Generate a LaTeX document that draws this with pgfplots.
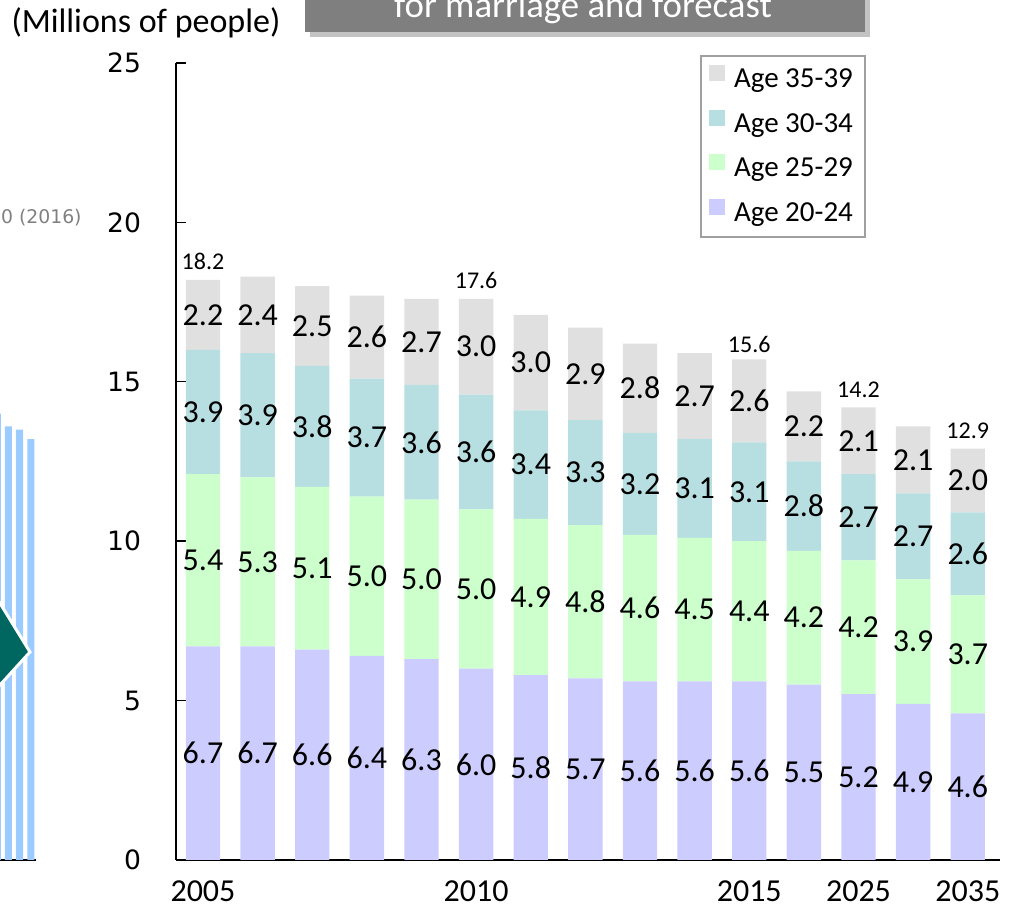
\documentclass[border=0pt]{standalone}
\usepackage{pgfplots}
\pgfplotsset{compat=1.18}
\usepackage{pgfplotstable}
\usepackage{fontspec}
\setmainfont{Carlito}
\newfontfamily\dejavu{DejaVu Sans}

\definecolor{c20}{RGB}{204,204,255}
\definecolor{c25}{RGB}{204,255,204}
\definecolor{c30}{RGB}{183,223,226}
\definecolor{c35}{RGB}{224,224,224}
\definecolor{oldbar}{RGB}{156,204,255}
\definecolor{arrowteal}{RGB}{0,102,96}
\definecolor{titlegray}{RGB}{127,127,127}
\definecolor{shadowgray}{RGB}{195,195,195}
\definecolor{legendgray}{RGB}{160,160,160}

\pgfplotsset{
  /pgf/number format/assume math mode=true,
  sqlegend/.style={legend image code/.code={\fill[##1] (0pt,-0.5pt) rectangle (8pt,7.5pt);}},
}

% population by age group, millions (2005-2015 yearly, then 2020, 2025, 2030, 2035)
\pgfplotstableread{
x  a20 a25 a30 a35
0  6.7 5.4 3.9 2.2
1  6.7 5.3 3.9 2.4
2  6.6 5.1 3.8 2.5
3  6.4 5.0 3.7 2.6
4  6.3 5.0 3.6 2.7
5  6.0 5.0 3.6 3.0
6  5.8 4.9 3.4 3.0
7  5.7 4.8 3.3 2.9
8  5.6 4.6 3.2 2.8
9  5.6 4.5 3.1 2.7
10 5.6 4.4 3.1 2.6
11 5.5 4.2 2.8 2.2
12 5.2 4.2 2.7 2.1
13 4.9 3.9 2.7 2.1
14 4.6 3.7 2.6 2.0
}\agedata

\begin{document}
\begin{tikzpicture}
\useasboundingbox (0,0) rectangle (509.5pt,454pt);
\clip (0,0) rectangle (509.5pt,454pt);

% cut-off pieces of the neighbouring slide content
\fill[shadowgray] (155pt,435.5pt) rectangle (435pt,470pt);
\fill[titlegray] (152.5pt,438.2pt) rectangle (432.5pt,470pt);
\node[white, font=\fontsize{18.4}{22}\selectfont, anchor=base] at (291.5pt,445pt) {for marriage and forecast};
\node[font=\fontsize{17}{20}\selectfont, anchor=base] at (73pt,437.5pt) {(Millions of people)};
\node[gray, font=\dejavu\fontsize{9.4}{11}\selectfont, anchor=east, inner sep=0pt] at (41pt,345pt) {0 (2016)};

\begin{axis}[
  at={(0pt,24pt)}, anchor=south west,
  scale only axis, width=18pt, height=398.5pt,
  xmin=0, xmax=36, ymin=0, ymax=25,
  axis x line*=bottom, axis y line=none,
  xtick=\empty, ytick=\empty,
  x axis line style={black, line width=0.7pt},
  ybar, bar width=7,
]
\addplot[fill=oldbar, draw=none] coordinates {(-2.5,14.0) (8.5,13.6) (19.5,13.5) (30.8,13.2)};
\end{axis}

\fill[arrowteal, draw=white, line width=1.5pt] (-5pt,160.5pt) -- (15pt,128pt) -- (-5pt,106pt) -- cycle;

\begin{axis}[
  at={(88pt,24pt)}, anchor=south west,
  scale only axis, width=412pt, height=398.5pt,
  xmin=-0.494, xmax=14.59, ymin=0, ymax=25,
  axis lines*=left,
  axis line style={black, line width=0.7pt},
  ytick={0,5,...,25},
  tick align=inside, major tick length=5pt,
  y tick style={black, line width=0.7pt},
  xtick={0,5,10,12,14}, xticklabels={2005,2010,2015,2025,2035},
  x tick style={draw=none},
  yticklabel style={font=\dejavu\fontsize{13.3}{16}\selectfont, xshift=-14pt},
  xticklabel style={font=\fontsize{16}{19}\selectfont, yshift=-7pt},
  ybar stacked, bar width=0.63,
  point meta=explicit,
  nodes near coords={\pgfmathprintnumber[fixed,fixed zerofill,precision=1]{\pgfplotspointmeta}},
  every node near coord/.append style={font=\fontsize{16}{19}\selectfont, anchor=center},
  legend style={at={(0.636,1.010)}, anchor=north west, draw=legendgray, line width=1pt,
    font=\fontsize{14.5}{17.5}\selectfont, row sep=7.3pt, inner xsep=4pt, inner ysep=4.5pt,
    cells={anchor=west},
    /tikz/every odd column/.append style={column sep=2.5pt}},
  reverse legend,
]
\addplot[fill=c20, draw=none, sqlegend] table[x=x, y=a20, meta=a20] {\agedata};
\addlegendentry{Age 20-24}
\addplot[fill=c25, draw=none, sqlegend] table[x=x, y=a25, meta=a25] {\agedata};
\addlegendentry{Age 25-29}
\addplot[fill=c30, draw=none, sqlegend] table[x=x, y=a30, meta=a30] {\agedata};
\addlegendentry{Age 30-34}
\addplot[fill=c35, draw=none, sqlegend] table[x=x, y=a35, meta=a35] {\agedata};
\addlegendentry{Age 35-39}
\end{axis}

% totals above selected bars
\begin{axis}[
  at={(88pt,24pt)}, anchor=south west,
  scale only axis, width=412pt, height=398.5pt,
  xmin=-0.494, xmax=14.59, ymin=0, ymax=25,
  hide axis,
  nodes near coords={\pgfmathprintnumber[fixed,fixed zerofill,precision=1]{\pgfplotspointmeta}},
  every node near coord/.append style={font=\fontsize{12}{14}\selectfont, anchor=base, yshift=5pt},
]
\addplot[draw=none, mark=none] coordinates {(0,18.2) (5,17.6) (10,15.6) (12,14.2) (14,12.9)};
\end{axis}
\end{tikzpicture}
\end{document}
